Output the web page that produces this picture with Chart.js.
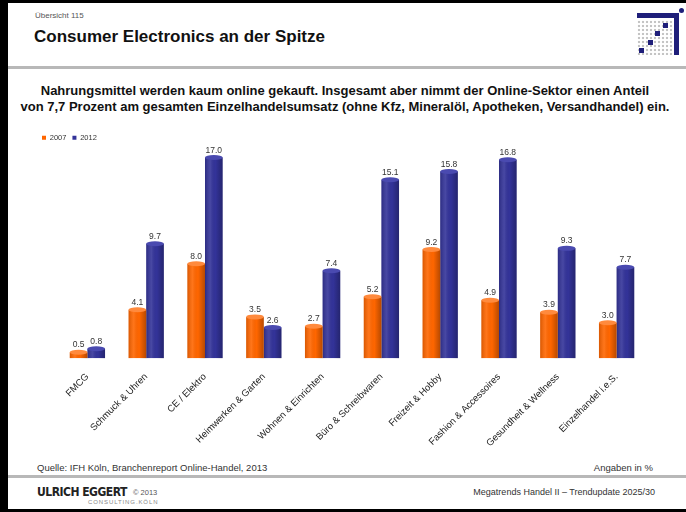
<!DOCTYPE html>
<html>
<head>
<meta charset="utf-8">
<script src="https://cdn.jsdelivr.net/npm/chart.js@4.4.1/dist/chart.umd.min.js"></script>
<style>
  html, body { margin: 0; padding: 0; }
  body { width: 686px; height: 512px; position: relative; overflow: hidden; background: #fff;
         font-family: "Liberation Sans", Arial, sans-serif; color: #111; }
  .abs { position: absolute; }
  #borderTop { left: 0; top: 0; width: 686px; height: 3px; background: #000; }
  #borderLeft { left: 0; top: 0; width: 8px; height: 512px; background: #000; }
  #borderBottom { left: 0; top: 509px; width: 686px; height: 3px; background: #000; }
  #kicker { left: 35px; top: 11px; font-size: 8px; color: #555; }
  #title { left: 34px; top: 27px; font-size: 17px; font-weight: bold; color: #111; }
  #hline { left: 8px; top: 66px; width: 678px; height: 3px; background: #b8b8b8; }
  #subtitle { left: 8px; top: 83px; width: 674px; text-align: center; font-size: 13px; font-weight: bold;
              line-height: 16px; color: #111; }
  #chartBox { left: 36px; top: 128px; width: 610px; height: 326px; }
  #source { left: 37px; top: 462px; font-size: 9.5px; color: #333; }
  #unit { right: 33px; top: 462px; font-size: 9.5px; color: #333; }
  #fline { left: 8px; top: 475px; width: 678px; height: 3px; background: #b8b8b8; }
  #brand { left: 37px; top: 485px; font-family: "DejaVu Sans Condensed", "DejaVu Sans", sans-serif;
           font-weight: bold; font-size: 12px; color: #222; letter-spacing: -0.5px; }
  #copy { left: 133px; top: 488px; font-size: 7.5px; color: #555; }
  #brand2 { left: 88px; top: 499px; font-size: 6px; color: #888; letter-spacing: 0.9px; }
  #series { right: 31px; top: 487px; font-size: 9px; color: #333; }
  /* logo */
  #logoGrid { left: 637px; top: 20px; width: 36px; height: 35px;
              background-image: radial-gradient(circle, #c4c4c4 1.2px, transparent 1.6px);
              background-size: 4px 4px; }
  .lg { background: #1f1f7a; }
</style>
</head>
<body>
<div id="borderTop" class="abs"></div>
<div id="borderLeft" class="abs"></div>
<div id="borderBottom" class="abs"></div>

<div id="kicker" class="abs">Übersicht 115</div>
<div id="title" class="abs">Consumer Electronics an der Spitze</div>

<div id="logoGrid" class="abs"></div>
<div class="abs lg" style="left:637px;top:13px;width:42px;height:5px;"></div>
<div class="abs lg" style="left:674px;top:13px;width:5px;height:42px;"></div>
<div class="abs lg" style="left:679px;top:8px;width:5px;height:5px;border-radius:50%;"></div>
<div class="abs lg" style="left:663px;top:23px;width:5px;height:5px;"></div>
<div class="abs lg" style="left:655px;top:31px;width:5px;height:5px;"></div>
<div class="abs lg" style="left:648px;top:40px;width:5px;height:5px;"></div>
<div class="abs lg" style="left:639px;top:48px;width:5px;height:5px;"></div>

<div id="hline" class="abs"></div>

<div id="subtitle" class="abs">Nahrungsmittel werden kaum online gekauft. Insgesamt aber nimmt der Online-Sektor einen Anteil<br>von 7,7 Prozent am gesamten Einzelhandelsumsatz (ohne Kfz, Mineralöl, Apotheken, Versandhandel) ein.</div>

<div id="chartBox" class="abs"><canvas id="myChart"></canvas></div>

<div id="source" class="abs">Quelle: IFH Köln, Branchenreport Online-Handel, 2013</div>
<div id="unit" class="abs">Angaben in %</div>
<div id="fline" class="abs"></div>
<div id="brand" class="abs">ULRICH EGGERT</div>
<div id="copy" class="abs">© 2013</div>
<div id="brand2" class="abs">CONSULTING.KÖLN</div>
<div id="series" class="abs">Megatrends Handel II – Trendupdate 2025/30</div>

<script>
    const categories = ["FMCG", "Schmuck & Uhren", "CE / Elektro", "Heimwerken & Garten", "Wohnen & Einrichten",
        "Büro & Schreibwaren", "Freizeit & Hobby", "Fashion & Accessoires", "Gesundheit & Wellness", "Einzelhandel i.e.S."];
    const values2007 = [0.5, 4.1, 8.0, 3.5, 2.7, 5.2, 9.2, 4.9, 3.9, 3.0];
    const values2012 = [0.8, 9.7, 17.0, 2.6, 7.4, 15.1, 15.8, 16.8, 9.3, 7.7];
    const seriesNames = ["2007", "2012"];
    const seriesColors = ["#ff6600", "#333399"];
    const capColors = ["#ff8a3d", "#4a4ab0"];

    // cylinder look + value labels, drawn over the library's bar elements
    const cylinderPlugin = {
        id: "cylinder",
        afterDatasetsDraw(chart) {
            const ctx = chart.ctx;
            chart.data.datasets.forEach(function (ds, di) {
                chart.getDatasetMeta(di).data.forEach(function (bar, i) {
                    const w = bar.width, x0 = bar.x - w / 2;
                    const g = ctx.createLinearGradient(x0, 0, x0 + w, 0);
                    g.addColorStop(0, "rgba(0,0,0,0.15)");
                    g.addColorStop(0.3, "rgba(255,255,255,0.10)");
                    g.addColorStop(0.6, "rgba(0,0,0,0)");
                    g.addColorStop(1, "rgba(0,0,0,0.28)");
                    ctx.save();
                    ctx.fillStyle = g;
                    ctx.fillRect(x0, bar.y, w, bar.base - bar.y);
                    ctx.beginPath();
                    ctx.ellipse(bar.x, bar.y, w / 2, 2.5, 0, 0, Math.PI * 2);
                    ctx.fillStyle = capColors[di];
                    ctx.fill();
                    ctx.fillStyle = "#333";
                    ctx.font = "8.5px 'Liberation Sans', Arial";
                    ctx.textAlign = "center";
                    ctx.textBaseline = "bottom";
                    ctx.fillText(ds.data[i].toFixed(1), bar.x, bar.y - 3);
                    ctx.restore();
                });
            });
        }
    };

    let myChart = new Chart("myChart", {
        type: "bar",
        data: {
            labels: categories,
            datasets: [{
                label: seriesNames[0],
                backgroundColor: seriesColors[0],
                data: values2007
            }, {
                label: seriesNames[1],
                backgroundColor: seriesColors[1],
                data: values2012
            }]
        },
        options: {
            responsive: true,
            maintainAspectRatio: false,
            animation: false,
            categoryPercentage: 0.6,
            barPercentage: 1.0,
            layout: { padding: 0 },
            plugins: {
                tooltip: { enabled: false },
                legend: {
                    display: true,
                    position: "top",
                    align: "start",
                    labels: {
                        boxWidth: 4,
                        boxHeight: 4,
                        padding: 6,
                        color: "#333",
                        font: { size: 7.5, family: "'Liberation Sans', Arial" }
                    }
                }
            },
            scales: {
                x: {
                    grid: { display: false },
                    border: { display: false },
                    ticks: {
                        minRotation: 45,
                        maxRotation: 45,
                        autoSkip: false,
                        padding: 5,
                        color: "#222",
                        font: { size: 9.5, family: "'Liberation Sans', Arial" }
                    }
                },
                y: {
                    min: 0,
                    max: 17.5,
                    grid: { display: false },
                    border: { display: false },
                    ticks: { display: false },
                    afterFit(scale) { scale.width = 22; }
                }
            }
        },
        plugins: [cylinderPlugin]
    });
</script>
</body>
</html>
